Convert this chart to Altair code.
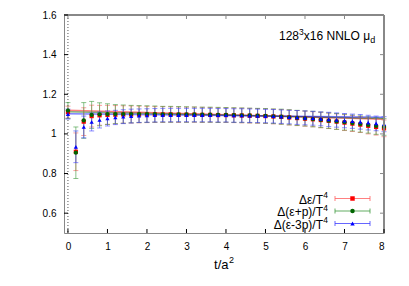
import altair as alt
import pandas as pd

t_vals = [0.0, 0.2, 0.4, 0.6, 0.8, 1.0, 1.2, 1.4, 1.6, 1.8, 2.0, 2.2, 2.4, 2.6, 2.8,
          3.0, 3.2, 3.4, 3.6, 3.8, 4.0, 4.2, 4.4, 4.6, 4.8, 5.0, 5.2, 5.4, 5.6, 5.8,
          6.0, 6.2, 6.4, 6.6, 6.8, 7.0, 7.2, 7.4, 7.6, 7.8, 8.0]

red_val = [1.110, 0.910, 1.062, 1.090, 1.094, 1.096, 1.097, 1.098, 1.098, 1.098, 1.098,
           1.098, 1.098, 1.098, 1.097, 1.097, 1.097, 1.096, 1.096, 1.095, 1.095, 1.094,
           1.093, 1.092, 1.091, 1.090, 1.088, 1.086, 1.083, 1.080, 1.077, 1.074, 1.070,
           1.066, 1.062, 1.057, 1.052, 1.047, 1.041, 1.035, 1.028]
green_val = [1.118, 0.905, 1.068, 1.096, 1.099, 1.100, 1.100, 1.100, 1.100, 1.100, 1.100,
             1.100, 1.099, 1.099, 1.099, 1.098, 1.098, 1.097, 1.097, 1.096, 1.096, 1.095,
             1.094, 1.093, 1.092, 1.091, 1.089, 1.087, 1.084, 1.081, 1.078, 1.075, 1.071,
             1.067, 1.063, 1.059, 1.055, 1.050, 1.045, 1.040, 1.035]
blue_val = [1.100, 0.935, 1.035, 1.060, 1.070, 1.078, 1.083, 1.087, 1.090, 1.092, 1.093,
            1.094, 1.095, 1.095, 1.095, 1.095, 1.095, 1.095, 1.095, 1.094, 1.094, 1.093,
            1.093, 1.092, 1.091, 1.090, 1.089, 1.087, 1.085, 1.083, 1.081, 1.079, 1.076,
            1.073, 1.070, 1.067, 1.064, 1.061, 1.057, 1.053, 1.049]

red_err = [0.030, 0.095, 0.070, 0.055, 0.050, 0.048, 0.046, 0.044, 0.043, 0.042, 0.041,
           0.040, 0.040, 0.039, 0.039, 0.038, 0.038, 0.038, 0.037, 0.037, 0.037, 0.037,
           0.037, 0.037, 0.037, 0.037, 0.037, 0.037, 0.038, 0.038, 0.038, 0.038, 0.039,
           0.039, 0.039, 0.040, 0.040, 0.040, 0.041, 0.041, 0.042]
green_err = [0.040, 0.130, 0.090, 0.068, 0.058, 0.052, 0.048, 0.046, 0.044, 0.043, 0.042,
             0.041, 0.040, 0.040, 0.039, 0.039, 0.038, 0.038, 0.038, 0.038, 0.037, 0.037,
             0.037, 0.037, 0.037, 0.037, 0.037, 0.038, 0.038, 0.038, 0.038, 0.039, 0.039,
             0.039, 0.040, 0.040, 0.040, 0.041, 0.041, 0.042, 0.042]
blue_err = [0.025, 0.080, 0.055, 0.045, 0.040, 0.038, 0.036, 0.035, 0.035, 0.034, 0.034,
            0.034, 0.034, 0.034, 0.034, 0.034, 0.034, 0.034, 0.034, 0.034, 0.034, 0.034,
            0.034, 0.034, 0.034, 0.034, 0.034, 0.034, 0.034, 0.035, 0.035, 0.035, 0.035,
            0.036, 0.036, 0.036, 0.036, 0.037, 0.037, 0.037, 0.038]

fit_t = [0.0, 8.0]
fit_red = [1.120, 1.074]
fit_green = [1.112, 1.078]
fit_blue = [1.102, 1.084]

series_names = ["Δε/T", "Δ(ε+p)/T", "Δ(ε-3p)/T"]
series_sup = ["4", "4", "4"]
series_colors = ["#ff0000", "#006400", "#0000ff"]
series_err_colors = ["#ff6060", "#3c9a3c", "#4040ff"]
series_shapes = ["square", "circle", "triangle-up"]

x_ticks = [0, 1, 2, 3, 4, 5, 6, 7, 8]
y_ticks = [0.6, 0.8, 1.0, 1.2, 1.4, 1.6]

W, H = 320, 218
FONT = "Liberation Sans"

xs = alt.Scale(domain=[-0.1, 8], nice=False, zero=False)
ys = alt.Scale(domain=[0.5, 1.6], nice=False, zero=False)

x_axis = alt.Axis(values=x_ticks, format="d", ticks=False, grid=False,
                  labelPadding=8, labelOverlap=False, title=None)
y_axis = alt.Axis(values=y_ticks, format="~g", ticks=False, grid=False,
                  labelPadding=8, labelOverlap=False, title=None)


def X(field="t"):
    return alt.X(f"{field}:Q", scale=xs, axis=x_axis)


def Y(field="v"):
    return alt.Y(f"{field}:Q", scale=ys, axis=y_axis)


rows = []
for name, vals, errs in zip(series_names, [red_val, green_val, blue_val],
                            [red_err, green_err, blue_err]):
    for t, v, e in zip(t_vals, vals, errs):
        rows.append({"t": t, "v": v, "lo": v - e, "hi": v + e, "s": name})
df = pd.DataFrame(rows)

fit_rows = []
for name, fv in zip(series_names, [fit_red, fit_green, fit_blue]):
    for t, v in zip(fit_t, fv):
        fit_rows.append({"t": t, "v": v, "s": name})
fit_df = pd.DataFrame(fit_rows)

color_scale = alt.Scale(domain=series_names, range=series_colors)

layers = []

# fit lines (first layer: defines axes)
layers.append(alt.Chart(fit_df).mark_line(strokeWidth=1.5, opacity=0.5).encode(
    x=X(), y=Y(),
    color=alt.Color("s:N", scale=color_scale, legend=None),
    detail="s:N"))

# dotted line at t=0
layers.append(alt.Chart(pd.DataFrame({"t": [0.0]})).mark_rule(
    color="#555555", strokeDash=[1, 2], strokeWidth=1).encode(x=X()))

for i, name in enumerate(series_names):
    sub = df[df.s == name]
    c = series_err_colors[i]
    layers.append(alt.Chart(sub).mark_rule(color=c, strokeWidth=1, opacity=0.6).encode(
        x=X(), y=Y("lo"), y2="hi:Q"))
    layers.append(alt.Chart(sub).mark_tick(color=c, thickness=1, size=5, opacity=0.6,
                                          orient="horizontal").encode(
        x=X(), y=Y("lo")))
    layers.append(alt.Chart(sub).mark_tick(color=c, thickness=1, size=5, opacity=0.6,
                                          orient="horizontal").encode(
        x=X(), y=Y("hi")))

for i, name in enumerate(series_names):
    sub = df[df.s == name]
    layers.append(alt.Chart(sub).mark_point(filled=True, size=18, opacity=1,
                                           shape=series_shapes[i],
                                           color=series_colors[i]).encode(
        x=X(), y=Y()))

# frame: top and right borders (gray)
frame = pd.DataFrame({"a": [0]})
layers.append(alt.Chart(frame).mark_rule(color="#888888", strokeWidth=2).encode(
    x=alt.value(0), x2=alt.value(W), y=alt.value(0)))
layers.append(alt.Chart(frame).mark_rule(color="#888888", strokeWidth=2).encode(
    x=alt.value(W), y=alt.value(0), y2=alt.value(H)))

# inward ticks
xt = pd.DataFrame({"t": x_ticks})
yt = pd.DataFrame({"v": y_ticks})
layers.append(alt.Chart(xt).mark_rule(color="black").encode(
    x=X(), y=alt.value(H), y2=alt.value(H - 4)))
layers.append(alt.Chart(xt).mark_rule(color="#888888").encode(
    x=X(), y=alt.value(0), y2=alt.value(4)))
layers.append(alt.Chart(yt).mark_rule(color="black").encode(
    y=Y(), x=alt.value(0), x2=alt.value(4)))
layers.append(alt.Chart(yt).mark_rule(color="#888888").encode(
    y=Y(), x=alt.value(W), x2=alt.value(W - 4)))


def txt(s, x, y, size, align="left"):
    return alt.Chart(frame).mark_text(align=align, baseline="alphabetic",
                                      fontSize=size, font=FONT, color="black").encode(
        x=alt.value(x), y=alt.value(y), text=alt.value(s))


# title text: 128^3x16 NNLO mu_d
tx = 215
layers.append(txt("128", tx, 24.5, 12))
layers.append(txt("3", tx + 20.0, 19.5, 8.5))
layers.append(txt("x16 NNLO μ", tx + 24.8, 24.5, 12))
layers.append(txt("d", tx + 91.3, 28, 9))

# x axis title t/a^2
layers.append(txt("t/a", 164.5, 254, 13, align="right"))
layers.append(txt("2", 165, 248, 9))

# legend
leg_y = [183.5, 196, 208.5]
for i, name in enumerate(series_names):
    yy = leg_y[i]
    layers.append(txt(name, 259, yy + 5, 12, align="right"))
    layers.append(txt(series_sup[i], 259.3, yy - 0.5, 8.5))
    layers.append(alt.Chart(frame).mark_rule(color=series_err_colors[i], opacity=0.8).encode(
        x=alt.value(271), x2=alt.value(306), y=alt.value(yy)))
    layers.append(alt.Chart(frame).mark_rule(color=series_err_colors[i], opacity=0.8).encode(
        x=alt.value(271), y=alt.value(yy - 2.5), y2=alt.value(yy + 2.5)))
    layers.append(alt.Chart(frame).mark_rule(color=series_err_colors[i], opacity=0.8).encode(
        x=alt.value(306), y=alt.value(yy - 2.5), y2=alt.value(yy + 2.5)))
    layers.append(alt.Chart(frame).mark_point(filled=True, size=20, opacity=1,
                                             shape=series_shapes[i],
                                             color=series_colors[i]).encode(
        x=alt.value(288.5), y=alt.value(yy)))

chart = alt.layer(*layers).properties(
    width=W, height=H,
    autosize=alt.AutoSizeParams(type="none"),
    padding={"left": 56, "top": 7, "right": 17, "bottom": 45},
).configure_view(stroke=None).configure_axis(
    labelFont=FONT, labelFontSize=12.5, labelColor="black",
    domainColor="black", domainWidth=1, titleColor="black",
).configure(background="white")

chart.save("out.html", embed_options={"renderer": "svg", "actions": False})
